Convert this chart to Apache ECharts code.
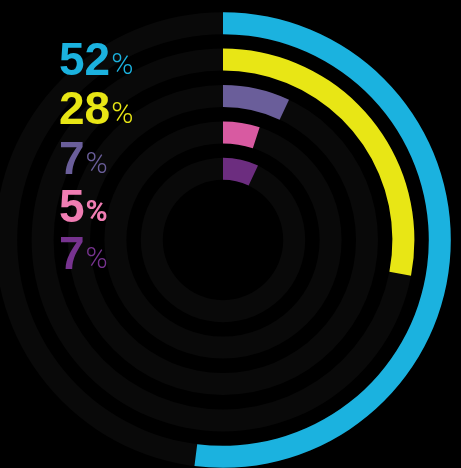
<!DOCTYPE html>
<html><head><meta charset="utf-8">
<script src="https://cdn.jsdelivr.net/npm/echarts@6/dist/echarts.min.js"></script>
<style>html,body{margin:0;padding:0;background:#000;}#c{width:461px;height:468px;}</style>
</head><body><div id="c"></div>
<script>
// outer ring first
const categories = ['A', 'B', 'C', 'D', 'E'];
const values = [52, 28, 7, 5, 7];
const barColors = ['#1bb2df', '#e8e615', '#6a5e9a', '#d85aa1', '#6c2d7f'];
const textColors = ['#1bb2df', '#e8e615', '#6a5e9a', '#f07db3', '#77338f'];
const labelTops = [34, 83, 133, 181, 228];

const chart = echarts.init(document.getElementById('c'));
const titles = values.map((v, i) => ({
  left: 54, top: labelTops[i],
  text: '{n|' + v + '}{p|%}',
  textStyle: {
    rich: {
      n: { fontFamily: 'Liberation Sans', fontWeight: 'bold', fontSize: 46, color: textColors[i], lineHeight: 46 },
      p: { fontFamily: 'Roboto', fontWeight: i === 3 ? 'bold' : 300, fontSize: 30, color: textColors[i], lineHeight: 46, padding: [8, 0, 0, 1] }
    }
  }
}));
chart.setOption({
  backgroundColor: '#000',
  animation: false,
  title: titles,
  polar: { center: [223, 240], radius: [53, 235] },
  angleAxis: { type: 'value', min: 0, max: 100, startAngle: 90, clockwise: true, show: false },
  radiusAxis: { type: 'category', data: categories.slice().reverse(), show: false },
  series: [{
    type: 'bar',
    coordinateSystem: 'polar',
    barWidth: 22,
    showBackground: true,
    backgroundStyle: { color: '#090909' },
    data: values.map((v, i) => ({ value: v, itemStyle: { color: barColors[i] } })).reverse()
  }]
});
</script></body></html>
